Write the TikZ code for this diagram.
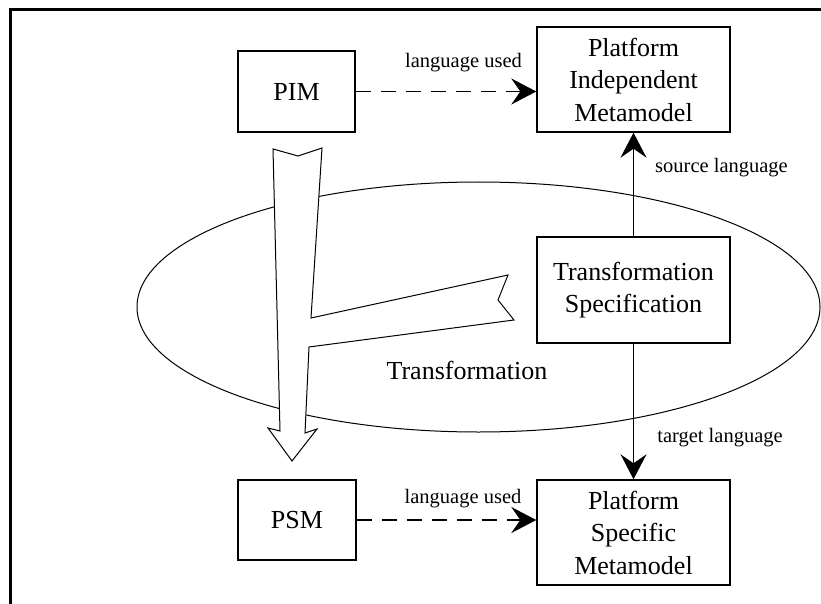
\documentclass[tikz,border=0pt]{standalone}
\usepackage{fontspec}
\setmainfont{Liberation Serif}
\usetikzlibrary{arrows.meta}
\newcommand\boxfont{\fontsize{26}{32.5}\selectfont}
\newcommand\lblfont{\fontsize{20.5}{24}\selectfont}

\begin{document}
\begin{tikzpicture}[x=1pt,y=-1pt,
  box/.style={draw, line width=1.4pt, inner sep=0pt, align=center, font=\boxfont},
  lbl/.style={anchor=base, inner sep=0pt, font=\lblfont},
  tip/.style={-{Stealth[length=25pt,width=26pt,inset=9pt]}},
  dasharrow/.style={tip, line width=1.4pt, dash pattern=on 15pt off 10pt},
  solidarrow/.style={tip, line width=1.4pt},
  fatarrow/.style={draw, fill=white, line width=1pt, line join=miter}
]
\useasboundingbox (0,0) rectangle (821,604);

% frame on the left and top
\draw[line width=3pt] (10,608) -- (10,10) -- (825,10);

% the transformation region
\draw[line width=1pt] (478.5,307) ellipse [x radius=341.5pt, y radius=125pt];

% boxes
\node[box, minimum width=117pt, minimum height=81pt] (PIM) at (296.5,91.5) {PIM};
\node[box, minimum width=193pt, minimum height=105pt] (PIMM) at (633.5,79.5)
  {Platform\\Independent\\Metamodel};
\node[box, minimum width=193pt, minimum height=106pt] (TS) at (633.5,290)
  {Transformation\\Specification};
\node[box, minimum width=118pt, minimum height=80pt] (PSM) at (297,520) {PSM};
\node[box, minimum width=193pt, minimum height=105pt] (PSMM) at (633.5,532.5)
  {Platform\\Specific\\Metamodel};

% wide hollow arrow from PIM to PSM with a branch from the specification
\draw[fatarrow] (273,149) -- (298,156) -- (322,148) -- (311,318) -- (508,275)
  -- (498,300) -- (514,320) -- (309,347) -- (305,433) -- (317,429)
  -- (292,461) -- (268,428) -- (280,431) -- cycle;

\node[lbl, font=\boxfont] (TL) at (467,379) {Transformation};

% connectors
\draw[dasharrow] (PIM.east) -- (PIM.east -| PIMM.west);
\draw[dasharrow] (PSM.east) -- (PSM.east -| PSMM.west);
\draw[solidarrow] (TS.north) -- (PIMM.south);
\draw[solidarrow] (TS.south) -- (PSMM.north);

% connector labels
\node[lbl] (LU1) at (463.5,68) {language used};
\node[lbl] (LU2) at (463,503) {language used};
\node[lbl] (SL) at (721.5,173) {source language};
\node[lbl] (TGL) at (720,442) {target language};
\end{tikzpicture}
\end{document}
